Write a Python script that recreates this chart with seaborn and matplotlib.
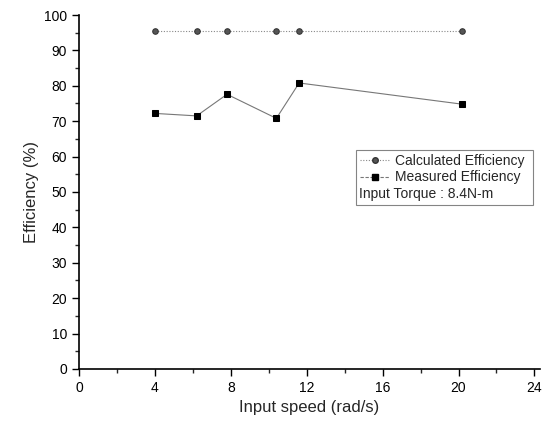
import matplotlib
matplotlib.use("Agg")
import matplotlib.pyplot as plt
import seaborn as sns
import pandas as pd
from matplotlib.ticker import MultipleLocator
from matplotlib.lines import Line2D

speed = [4.0, 6.2, 7.8, 10.4, 11.6, 20.2]
calculated = [95.5, 95.5, 95.5, 95.5, 95.5, 95.5]
measured = [72.2, 71.5, 77.6, 70.8, 80.8, 74.8]

sns.set_theme(style="ticks")
plt.rcParams['font.family'] = ['Liberation Sans', 'DejaVu Sans']

fig = plt.figure(figsize=(5.58, 4.25), dpi=100)
ax = fig.add_axes([0.1416, 0.1318, 0.968 - 0.1416, 0.9647 - 0.1318])

df = pd.DataFrame({"speed": speed, "calc": calculated, "meas": measured})
sns.lineplot(data=df, x="speed", y="calc", ax=ax, color="#888888", lw=0.8,
             linestyle=(0, (1, 1.5)), marker="o", markersize=4,
             markerfacecolor="#555555", markeredgecolor="#333333", label="Calculated Efficiency")
sns.lineplot(data=df, x="speed", y="meas", ax=ax, color="#777777", lw=0.8,
             marker="s", markersize=4.5, markerfacecolor="black",
             markeredgecolor="black", label="Measured Efficiency")

ax.set_xlim(0, 24.3)
ax.set_ylim(0, 100)
ax.xaxis.set_major_locator(MultipleLocator(4))
ax.xaxis.set_minor_locator(MultipleLocator(2))
ax.yaxis.set_major_locator(MultipleLocator(10))
ax.yaxis.set_minor_locator(MultipleLocator(5))
ax.tick_params(which="major", direction="out", length=5, width=1, labelsize=10, colors="black")
ax.tick_params(which="minor", direction="out", length=3, width=1)
for s in ["top", "right"]:
    ax.spines[s].set_visible(False)
for s in ["left", "bottom"]:
    ax.spines[s].set_linewidth(1.2)
    ax.spines[s].set_color("black")

ax.set_xlabel("Input speed (rad/s)", fontsize=12)
ax.set_ylabel("Efficiency (%)", fontsize=12)

handles = [Line2D([], [], color="#888888", lw=0.8, linestyle=(0, (1, 1.5)), marker="o",
                  markersize=4, markerfacecolor="#555555", markeredgecolor="#333333"),
           Line2D([], [], color="#777777", lw=0.8, linestyle=(0, (3, 1.5)), marker="s",
                  markersize=4.5, markerfacecolor="black", markeredgecolor="black"),
           Line2D([], [], color="none")]
labels = ["Calculated Efficiency", "Measured Efficiency", "Input Torque : 8.4N-m"]
leg = ax.legend(handles, labels, loc="upper left", bbox_to_anchor=(0.6, 0.62),
                fontsize=10, frameon=True, fancybox=False, edgecolor="#666666",
                handlelength=2.2, handletextpad=0.3, borderpad=0.3, labelspacing=0.2,
                borderaxespad=0)
leg.get_frame().set_linewidth(0.8)
leg.get_texts()[2].set_position((-36, 0))

fig.savefig("out.png", dpi=100)
